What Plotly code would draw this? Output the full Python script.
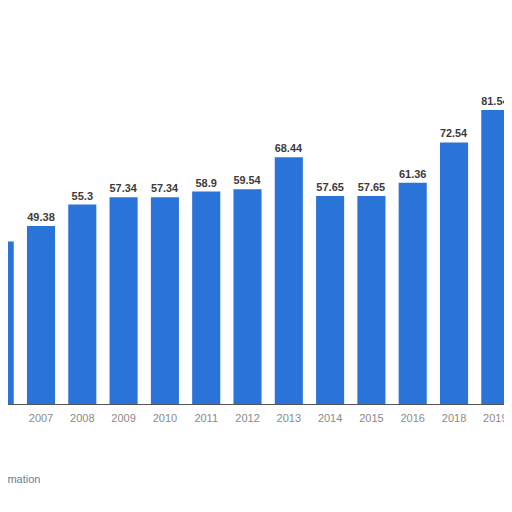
import plotly.graph_objects as go

years = ["2006", "2007", "2008", "2009", "2010", "2011", "2012",
         "2013", "2014", "2015", "2016", "2018", "2019"]
values = [45.08, 49.38, 55.3, 57.34, 57.34, 58.9, 59.54,
          68.44, 57.65, 57.65, 61.36, 72.54, 81.54]
labels = [f"{v:g}" for v in values]

fig = go.Figure()
fig.add_trace(go.Bar(
    x=years, y=values,
    text=labels, textposition="outside", cliponaxis=False,
    textfont=dict(family="Liberation Sans", size=11, color="#3c3c3c",
                  weight="bold"),
    marker=dict(color="#2a73d9", line=dict(width=0)),
    width=0.68,
))

# page has an 8px body margin, so the figure is 504 wide and shifted
fig.update_layout(
    width=504, height=504,
    margin=dict(l=0, r=0, t=0, b=108),
    paper_bgcolor="white", plot_bgcolor="white",
    showlegend=False,
    font=dict(family="Liberation Sans"),
)
fig.update_xaxes(
    type="category", range=[0.201, 12.404],
    showline=True, linecolor="#555555", linewidth=1,
    ticks="", tickfont=dict(size=11, color="#8a8a8a"),
    ticklabelstandoff=4,
    showgrid=False,
)
fig.update_yaxes(
    range=[0, 109.8], showticklabels=False, showgrid=False,
    zeroline=False,
)
fig.add_annotation(
    text="Additional Information", xref="paper", yref="paper",
    x=0.0675, y=-0.189, xanchor="right", yanchor="middle",
    showarrow=False, font=dict(size=11, color="#6b7c93"),
)
fig.add_annotation(
    text="©", xref="paper", yref="paper",
    x=0.995, y=-0.129, xanchor="center", yanchor="middle",
    showarrow=False, font=dict(size=12, color="#888888"),
)

fig.write_html("out.html")
